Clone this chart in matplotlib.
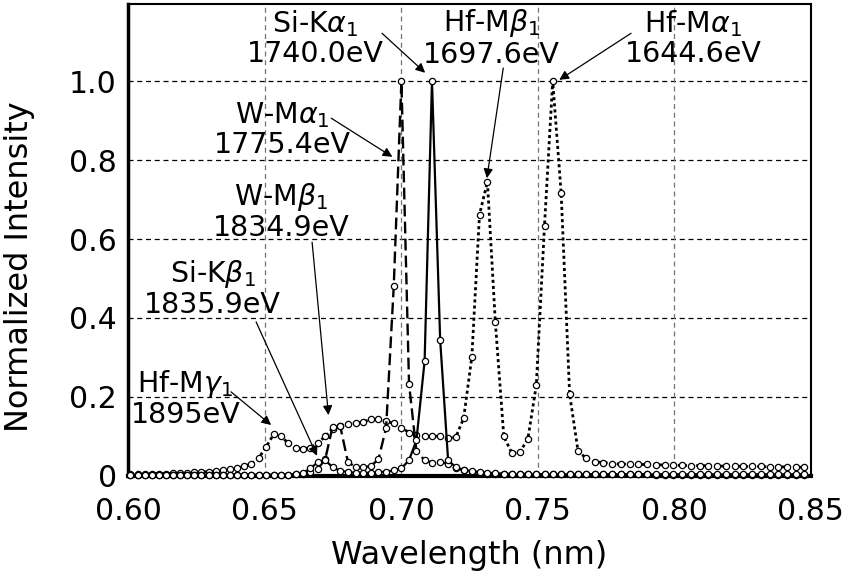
import matplotlib
matplotlib.use("Agg")
import matplotlib.pyplot as plt

# -----------------------------------
# DATA
# -----------------------------------

wavelength = [
    0.6009, 0.6035, 0.6061, 0.6087, 0.6113, 0.6139, 0.6165, 0.6191, 0.6217, 0.6243,
    0.6269, 0.6295, 0.6321, 0.6347, 0.6373, 0.6399, 0.6425, 0.6452, 0.6479, 0.6506,
    0.6533, 0.6560, 0.6587, 0.6614, 0.6641, 0.6668, 0.6695, 0.6722, 0.6749, 0.6777,
    0.6805, 0.6833, 0.6861, 0.6889, 0.6917, 0.6945, 0.6973, 0.7001, 0.7029, 0.7056,
    0.7086, 0.7113, 0.7143, 0.7172, 0.7200, 0.7229, 0.7259, 0.7287, 0.7316, 0.7345,
    0.7376, 0.7406, 0.7434, 0.7464, 0.7495, 0.7525, 0.7555, 0.7586, 0.7617, 0.7648,
    0.7678, 0.7709, 0.7741, 0.7773, 0.7805, 0.7837, 0.7869, 0.7901, 0.7933, 0.7965,
    0.7997, 0.8029, 0.8061, 0.8093, 0.8125, 0.8157, 0.8189, 0.8221, 0.8253, 0.8285,
    0.8317, 0.8349, 0.8381, 0.8413, 0.8445, 0.8477,
]

# Hf spectrum (dotted)
hf_intensity = [
    0.006, 0.006, 0.006, 0.006, 0.006, 0.006, 0.007, 0.007, 0.008, 0.009,
    0.010, 0.011, 0.012, 0.014, 0.017, 0.020, 0.024, 0.031, 0.046, 0.074,
    0.105, 0.100, 0.083, 0.072, 0.068, 0.072, 0.083, 0.100, 0.120, 0.127,
    0.132, 0.133, 0.137, 0.143, 0.143, 0.139, 0.133, 0.122, 0.110, 0.104,
    0.100, 0.100, 0.101, 0.095, 0.098, 0.146, 0.302, 0.662, 0.745, 0.389,
    0.100, 0.057, 0.060, 0.093, 0.230, 0.634, 1.000, 0.716, 0.207, 0.062,
    0.045, 0.036, 0.034, 0.031, 0.030, 0.030, 0.029, 0.029, 0.028, 0.028,
    0.027, 0.027, 0.026, 0.026, 0.026, 0.025, 0.025, 0.025, 0.024, 0.024,
    0.024, 0.023, 0.023, 0.023, 0.022, 0.022,
]

# W spectrum (dashed)
w_intensity = [
    0.003, 0.003, 0.003, 0.003, 0.003, 0.003, 0.003, 0.003, 0.003, 0.003,
    0.003, 0.003, 0.003, 0.003, 0.003, 0.003, 0.003, 0.003, 0.003, 0.003,
    0.003, 0.003, 0.003, 0.004, 0.006, 0.010, 0.018, 0.042, 0.125, 0.126,
    0.036, 0.022, 0.022, 0.025, 0.042, 0.122, 0.480, 1.000, 0.233, 0.062,
    0.040, 0.034, 0.036, 0.030, 0.019, 0.015, 0.011, 0.008, 0.006, 0.005,
    0.005, 0.005, 0.005, 0.005, 0.004, 0.004, 0.004, 0.004, 0.004, 0.004,
    0.004, 0.004, 0.004, 0.004, 0.004, 0.004, 0.004, 0.004, 0.003, 0.003,
    0.003, 0.003, 0.003, 0.003, 0.003, 0.003, 0.003, 0.003, 0.003, 0.003,
    0.003, 0.003, 0.003, 0.003, 0.003, 0.003,
]

# Si spectrum (solid)
si_intensity = [
    0.002, 0.002, 0.002, 0.002, 0.002, 0.002, 0.002, 0.002, 0.002, 0.002,
    0.002, 0.002, 0.002, 0.002, 0.002, 0.002, 0.002, 0.002, 0.002, 0.002,
    0.002, 0.002, 0.003, 0.004, 0.008, 0.019, 0.035, 0.040, 0.022, 0.013,
    0.010, 0.008, 0.008, 0.008, 0.009, 0.011, 0.014, 0.019, 0.040, 0.090,
    0.291, 1.000, 0.344, 0.040, 0.022, 0.015, 0.012, 0.010, 0.008, 0.007,
    0.006, 0.004, 0.004, 0.004, 0.004, 0.004, 0.004, 0.004, 0.004, 0.004,
    0.004, 0.004, 0.004, 0.004, 0.004, 0.004, 0.004, 0.004, 0.004, 0.004,
    0.004, 0.004, 0.004, 0.004, 0.004, 0.004, 0.004, 0.004, 0.004, 0.004,
    0.004, 0.004, 0.004, 0.004, 0.004, 0.004,
]

x_ticks = [0.60, 0.65, 0.70, 0.75, 0.80, 0.85]
x_tick_labels = ["0.60", "0.65", "0.70", "0.75", "0.80", "0.85"]
y_ticks = [0, 0.2, 0.4, 0.6, 0.8, 1.0]
y_tick_labels = ["0", "0.2", "0.4", "0.6", "0.8", "1.0"]

# line labels: text, text position, arrow tail, arrow tip
peak_labels = [
    (r"Si-K$\alpha_1$" + "\n1740.0eV", (0.6685, 1.109), (0.6930, 1.121), (0.7088, 1.021)),
    (r"Hf-M$\beta_1$" + "\n1697.6eV", (0.7330, 1.109), (0.7374, 1.033), (0.7314, 0.754)),
    (r"Hf-M$\alpha_1$" + "\n1644.6eV", (0.8070, 1.109), (0.7842, 1.121), (0.7579, 1.003)),
    (r"W-M$\alpha_1$" + "\n1775.4eV", (0.6565, 0.876), (0.6744, 0.906), (0.6968, 0.808)),
    (r"W-M$\beta_1$" + "\n1834.9eV", (0.6560, 0.669), (0.6674, 0.592), (0.6734, 0.154)),
    (r"Si-K$\beta_1$" + "\n1835.9eV", (0.6310, 0.474), (0.6469, 0.390), (0.6692, 0.051)),
    (r"Hf-M$\gamma_1$" + "\n1895eV", (0.6210, 0.197), (0.6377, 0.213), (0.6524, 0.129)),
]

# -----------------------------------
# PLOT
# -----------------------------------

plt.rcParams["font.family"] = ["DejaVu Sans"]
plt.rcParams["mathtext.fontset"] = "dejavusans"

fig = plt.figure(figsize=(8.45, 5.79), dpi=100)
ax = fig.add_axes([0.1515, 0.178, 0.808, 0.815])

marker_style = dict(
    marker="o",
    markersize=4.5,
    markerfacecolor="white",
    markeredgecolor="black",
    markeredgewidth=0.9,
    color="black",
    clip_on=False,
)

ax.plot(wavelength, hf_intensity, linestyle=(0, (1.1, 1.1)), linewidth=2.0, zorder=4, **marker_style)
ax.plot(wavelength, w_intensity, linestyle=(0, (5, 2.2)), linewidth=1.7, zorder=5, **marker_style)
ax.plot(wavelength, si_intensity, linestyle="-", linewidth=1.6, zorder=6, **marker_style)

# grid lines
for y in y_ticks[1:]:
    ax.axhline(y, color="black", linestyle=(0, (4, 3)), linewidth=0.9, zorder=1)
for x in x_ticks[1:-1]:
    ax.axvline(x, color="0.45", linestyle=(0, (4, 3)), linewidth=0.9, zorder=1)

# peak labels with arrows
for text, text_pos, tail, tip in peak_labels:
    ax.text(
        text_pos[0],
        text_pos[1],
        text,
        ha="center",
        va="center",
        fontsize=20.5,
        linespacing=1.05,
        zorder=8,
    )
    ax.annotate(
        "",
        xy=tip,
        xytext=tail,
        arrowprops=dict(
            arrowstyle="-|>",
            color="black",
            lw=0.9,
            mutation_scale=14,
            shrinkA=0,
            shrinkB=0,
        ),
        zorder=8,
    )

ax.set_xlim(0.60, 0.85)
ax.set_ylim(0, 1.195)

ax.set_xticks(x_ticks)
ax.set_xticklabels(x_tick_labels)
ax.set_yticks(y_ticks)
ax.set_yticklabels(y_tick_labels)
ax.tick_params(length=0, labelsize=21.5)
ax.tick_params(axis="x", pad=15)
ax.tick_params(axis="y", pad=8)

ax.set_xlabel("Wavelength (nm)", fontsize=23, labelpad=10)
ax.set_ylabel("Normalized Intensity", fontsize=23)
ax.yaxis.set_label_coords(-0.136, 0.443)

ax.spines["left"].set_linewidth(2.5)
ax.spines["bottom"].set_linewidth(3.0)
ax.spines["top"].set_linewidth(1.5)
ax.spines["right"].set_linewidth(1.5)

# -----------------------------------
# SAVE GRAPH
# -----------------------------------

plt.savefig("out.png", dpi=100)
print("Plot saved at: out.png")
